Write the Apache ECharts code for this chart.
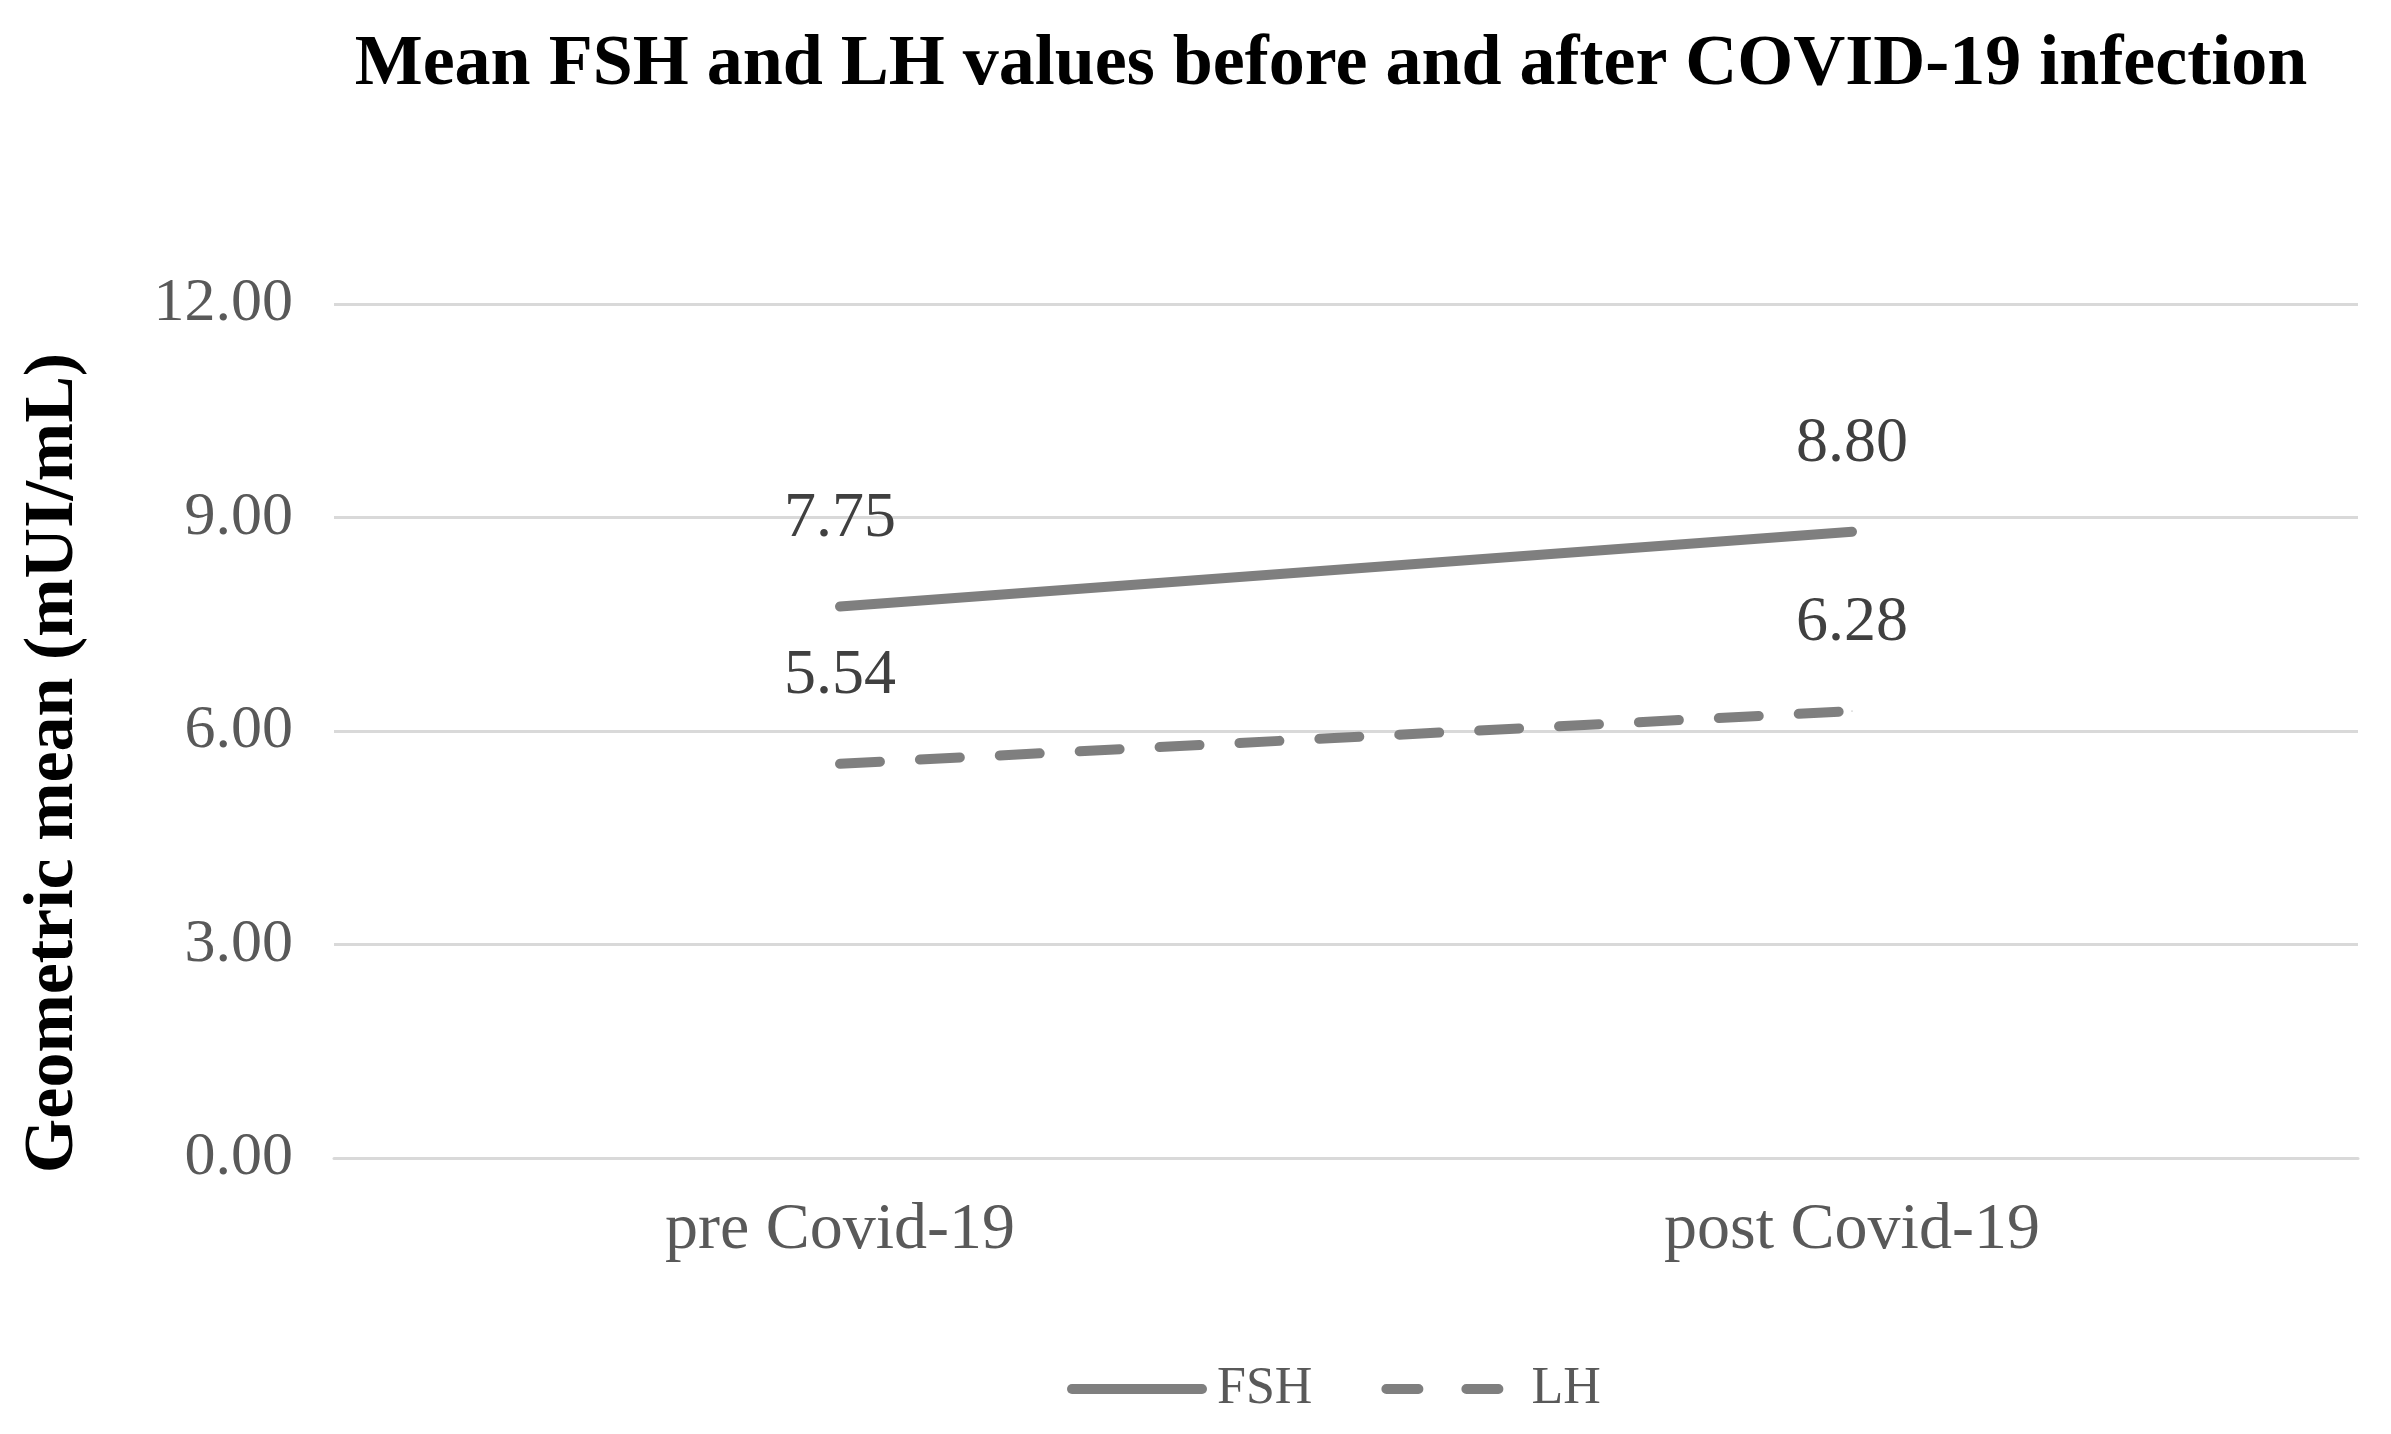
<!DOCTYPE html>
<html>
<head>
<meta charset="utf-8">
<script src="https://cdn.jsdelivr.net/npm/echarts@6/dist/echarts.min.js"></script>
<style>
html,body{margin:0;padding:0;background:#fff;}
#chart{width:2391px;height:1434px;}
</style>
</head>
<body>
<div id="chart"></div>
<script>
var categories = ['pre Covid-19', 'post Covid-19'];
var fshValues = [7.75, 8.80];
var lhValues = [5.54, 6.28];
var yTicks = { min: 0, max: 12, interval: 3 };
var seriesNames = ['FSH', 'LH'];

var chart = echarts.init(document.getElementById('chart'), null, { renderer: 'canvas' });
var serif = '"Liberation Serif", "DejaVu Serif", serif';

function valueLabel() {
  return {
    show: true, position: 'top', distance: 55,
    fontFamily: serif, fontSize: 64, color: '#404040',
    formatter: function (p) { return Number(p.value).toFixed(2); }
  };
}

chart.setOption({
  backgroundColor: '#ffffff',
  animation: false,
  title: {
    text: 'Mean FSH and LH values before and after COVID-19 infection',
    left: 1326,
    top: 24,
    textAlign: 'center',
    textStyle: { fontFamily: serif, fontWeight: 'bold', fontSize: 72, color: '#000000' }
  },
  legend: {
    data: [
      { name: seriesNames[0], lineStyle: { type: 'solid' } },
      { name: seriesNames[1], lineStyle: { type: [32, 48] } }
    ],
    left: 1062,
    top: 1358,
    itemWidth: 130,
    itemHeight: 10,
    itemGap: 69,
    itemStyle: { opacity: 0 },
    lineStyle: { width: 10, cap: 'round', color: '#7f7f7f' },
    textStyle: { fontFamily: serif, fontSize: 52, color: '#595959', padding: [0, 0, 0, 10] }
  },
  grid: { left: 334, right: 33, top: 304, bottom: 1434 - 1158, containLabel: false },
  xAxis: {
    type: 'category',
    data: categories,
    boundaryGap: true,
    axisLine: { show: true, lineStyle: { color: '#d9d9d9', width: 3 } },
    axisTick: { show: false },
    axisLabel: { fontFamily: serif, fontSize: 66, color: '#595959', margin: 40 },
    splitLine: { show: false }
  },
  yAxis: {
    type: 'value',
    min: yTicks.min,
    max: yTicks.max,
    interval: yTicks.interval,
    name: 'Geometric mean (mUI/mL)',
    nameLocation: 'middle',
    nameRotate: 90,
    nameGap: 245,
    nameTextStyle: { fontFamily: serif, fontWeight: 'bold', fontSize: 70, color: '#000000', padding: [0, 64, 0, 0] },
    axisLine: { show: false },
    axisTick: { show: false },
    axisLabel: {
      fontFamily: serif, fontSize: 62, color: '#595959', margin: 41,
      formatter: function (v) { return v.toFixed(2); }
    },
    splitLine: { show: true, lineStyle: { color: '#d9d9d9', width: 3 } }
  },
  series: [
    {
      name: seriesNames[0],
      type: 'line',
      data: fshValues,
      symbol: 'circle',
      symbolSize: 1,
      showSymbol: true,
      itemStyle: { color: '#7f7f7f' },
      lineStyle: { color: '#7f7f7f', width: 10, cap: 'round' },
      label: valueLabel()
    },
    {
      name: seriesNames[1],
      type: 'line',
      data: lhValues,
      symbol: 'circle',
      symbolSize: 1,
      showSymbol: true,
      itemStyle: { color: '#7f7f7f' },
      lineStyle: { color: '#7f7f7f', width: 10, type: [40, 40], cap: 'round' },
      label: valueLabel()
    }
  ]
});
</script>
</body>
</html>
